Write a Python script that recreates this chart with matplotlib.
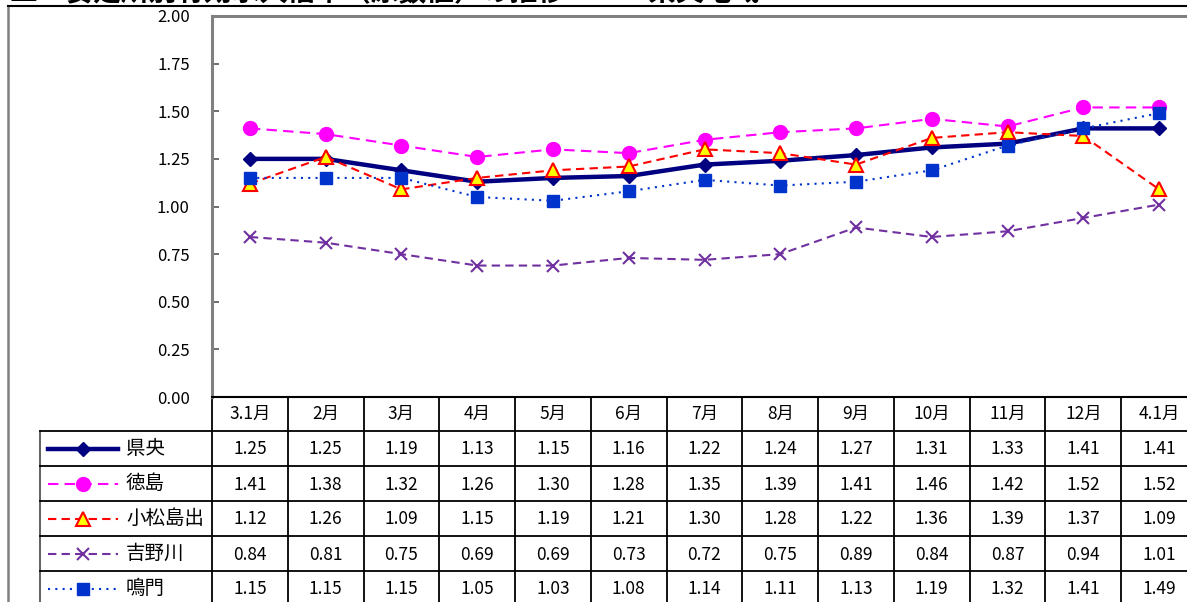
import matplotlib
matplotlib.use("Agg")
import matplotlib.pyplot as plt
import numpy as np

plt.rcParams['font.family'] = ['Noto Sans CJK JP', 'DejaVu Sans']

months = ["3.1月", "2月", "3月", "4月", "5月", "6月", "7月", "8月", "9月", "10月", "11月", "12月", "4.1月"]
names = ["県央", "徳島", "小松島出", "吉野川", "鳴門"]
kenou = [1.25, 1.25, 1.19, 1.13, 1.15, 1.16, 1.22, 1.24, 1.27, 1.31, 1.33, 1.41, 1.41]
tokushima = [1.41, 1.38, 1.32, 1.26, 1.30, 1.28, 1.35, 1.39, 1.41, 1.46, 1.42, 1.52, 1.52]
komatsushima = [1.12, 1.26, 1.09, 1.15, 1.19, 1.21, 1.30, 1.28, 1.22, 1.36, 1.39, 1.37, 1.09]
yoshinogawa = [0.84, 0.81, 0.75, 0.69, 0.69, 0.73, 0.72, 0.75, 0.89, 0.84, 0.87, 0.94, 1.01]
naruto = [1.15, 1.15, 1.15, 1.05, 1.03, 1.08, 1.14, 1.11, 1.13, 1.19, 1.32, 1.41, 1.49]
series = [kenou, tokushima, komatsushima, yoshinogawa, naruto]
yticks = [0.00, 0.25, 0.50, 0.75, 1.00, 1.25, 1.50, 1.75, 2.00]

styles = [
    dict(color="#000080", lw=3.2, ls="-", marker="D", ms=7.5, mfc="#000080", mec="#000080"),
    dict(color="#FF00FF", lw=1.5, ls=(0, (5, 3)), marker="o", ms=10, mfc="#FF00FF", mec="#FF00FF"),
    dict(color="#FF0000", lw=1.5, ls=(0, (4, 2.5)), marker="^", ms=10, mfc="#FFFF00", mec="#FF0000", mew=1.5),
    dict(color="#7030A0", lw=1.5, ls=(0, (4, 2.5)), marker="x", ms=9, mfc="#7030A0", mec="#7030A0", mew=1.5),
    dict(color="#0033CC", lw=1.5, ls=(0, (1, 2.5)), marker="s", ms=8.5, mfc="#0033CC", mec="#0033CC"),
]

W, H = 1187, 602
fig = plt.figure(figsize=(W / 100, H / 100), dpi=100)

# pixel-coordinate overlay for frame, table and title
pax = fig.add_axes([0, 0, 1, 1])
pax.set_xlim(0, W)
pax.set_ylim(H, 0)
pax.axis("off")

x0, x1 = 212, 1197
y_top, y_bot = 16, 397
ax = fig.add_axes([x0 / W, (H - y_bot) / H, (x1 - x0) / W, (y_bot - y_top) / H])
n = len(months)
x = np.arange(n)
for vals, st in zip(series, styles):
    ax.plot(x, vals, clip_on=False, **st)
ax.set_xlim(-0.5, n - 0.5)
ax.set_ylim(0, 2.0)
ax.set_yticks(yticks)
ax.set_yticklabels(["%.2f" % v for v in yticks], fontsize=12)
ax.tick_params(axis="y", direction="in", length=5, width=1.2, color="#555555", pad=16)
ax.set_xticks([])
ax.patch.set_alpha(0)
for s in ["left", "top"]:
    ax.spines[s].set_color("#808080")
    ax.spines[s].set_linewidth(2.2)
ax.spines["right"].set_visible(False)
ax.spines["bottom"].set_color("black")
ax.spines["bottom"].set_linewidth(1.5)

# outer frame
pax.plot([8, 8], [6, H], color="#808080", lw=1.8)
pax.plot([8, W], [6, 6], color="black", lw=1.5)

# title (mostly outside the picture, as in the source)
pax.text(10, 1.5, "二　安定所別有効求人倍率（原数値）の推移　―　県央地域―", fontsize=20,
         fontweight="bold", va="baseline", ha="left")

# data table
colw = (x1 - x0) / n
row_h = 35
hdr_bot = 431
leg_x = 40
for i in range(n + 1):
    xx = x0 + i * colw
    pax.plot([xx, xx], [y_bot, H], color="black", lw=1.3)
pax.plot([leg_x, leg_x], [hdr_bot, H], color="#555555", lw=1.3)
for r in range(len(names) + 1):
    yy = hdr_bot + r * row_h
    pax.plot([leg_x, W], [yy, yy], color="black", lw=1.3)
for i, m in enumerate(months):
    pax.text(x0 + (i + 0.5) * colw, (y_bot + hdr_bot) / 2, m, ha="center", va="center", fontsize=12.5)
for r, (nm, vals, st) in enumerate(zip(names, series, styles)):
    yc = hdr_bot + (r + 0.5) * row_h
    pax.plot([48, 118], [yc, yc], **{k: v for k, v in st.items() if k not in ("marker", "ms", "mfc", "mec", "mew")})
    pax.plot([83], [yc], ls="none", marker=st["marker"], ms=st["ms"], mfc=st["mfc"], mec=st["mec"],
             mew=st.get("mew", 1.0))
    pax.text(126, yc, nm, ha="left", va="center", fontsize=14)
    for i, v in enumerate(vals):
        pax.text(x0 + (i + 0.5) * colw, yc + 1, "%.2f" % v, ha="center", va="center", fontsize=12.5)

fig.savefig("out.png", dpi=100)
